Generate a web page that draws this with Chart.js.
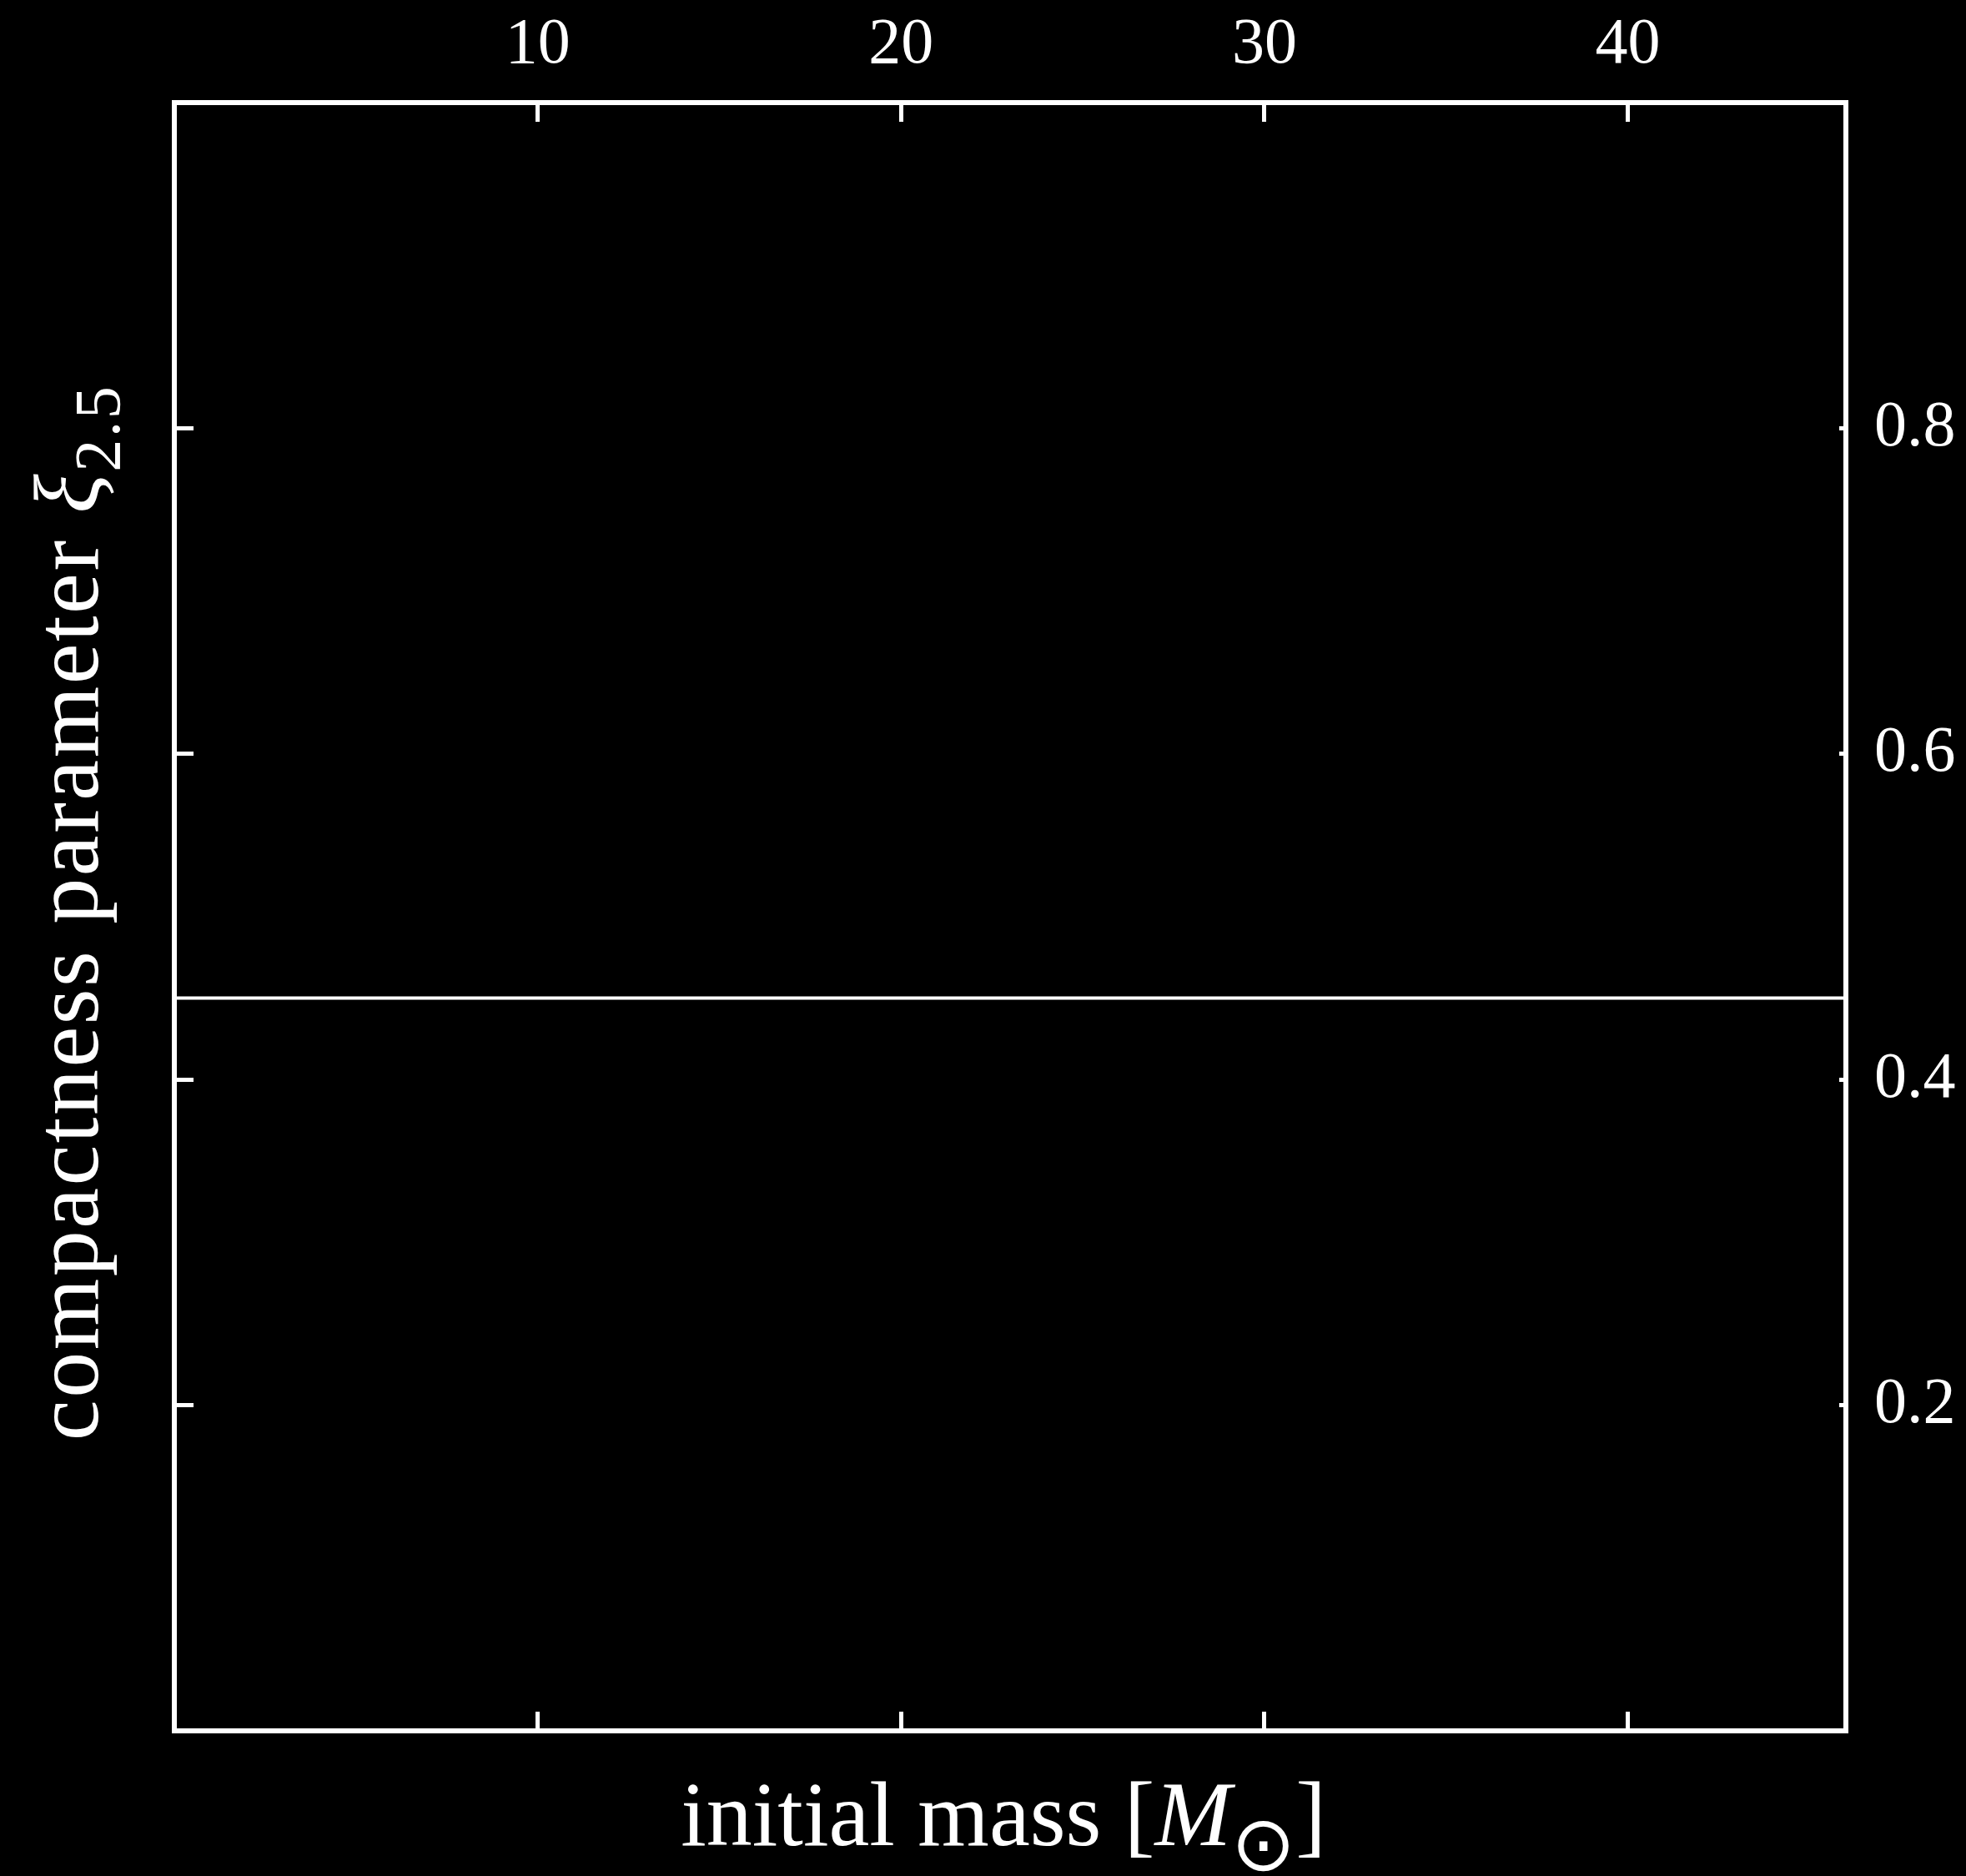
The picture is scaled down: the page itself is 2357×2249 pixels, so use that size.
<!DOCTYPE html>
<html>
<head>
<meta charset="utf-8">
<title>compactness parameter</title>
<script src="https://cdn.jsdelivr.net/npm/chart.js@4.4.1/dist/chart.umd.min.js"></script>
<style>
  html, body { margin: 0; padding: 0; background: #000; overflow: hidden; }
  #wrap { width: 2357px; height: 2249px; }
</style>
</head>
<body>
<div id="wrap"><canvas id="grafico-compactness"></canvas></div>
<script>
// axis limits and ticks
const massRange = [0, 46];
const xiRange = [0, 1];
const massTicks = [10, 20, 30, 40];
const xiTicks = [0.2, 0.4, 0.6, 0.8];

// the single horizontal line
const lineMass = [0, 46];
const lineXi = [0.45, 0.45];

// axis titles (parts: roman / italic / subscript / sun symbol)
const xTitle = [['initial mass [', 'r'], ['M', 'i'], ['\u2299', 'o'], [']', 'r']];
const yTitle = [['compactness parameter ', 'r'], ['\u03BE', 'i'], ['2.5', 's']];

const white = '#ffffff';
const serif = '"Liberation Serif", "DejaVu Serif", serif';

function fontFor(kind) {
  if (kind === 'i') return 'italic 110px ' + serif;
  if (kind === 's') return '78px ' + serif;
  if (kind === 'o') return '92px "DejaVu Sans", sans-serif';
  return '110px ' + serif;
}

// draws a title made of parts, centered on (cx, cy), optionally rotated
function drawRich(ctx, parts, cx, cy, angle, subShift, spacing) {
  ctx.save();
  ctx.translate(cx, cy);
  ctx.rotate(angle);
  ctx.textAlign = 'left';
  ctx.textBaseline = 'alphabetic';
  ctx.letterSpacing = spacing + 'px';
  let total = 0;
  parts.forEach(p => { ctx.font = fontFor(p[1]); total += ctx.measureText(p[0]).width; });
  let x = -total / 2;
  parts.forEach(p => {
    ctx.font = fontFor(p[1]);
    ctx.fillText(p[0], x, p[1] === 's' || p[1] === 'o' ? subShift : 0);
    x += ctx.measureText(p[0]).width;
  });
  ctx.restore();
}

const axisTitles = {
  id: 'axisTitles',
  afterDraw(chart) {
    const { ctx, chartArea } = chart;
    ctx.save();
    ctx.fillStyle = white;
    drawRich(ctx, xTitle, (chartArea.left + chartArea.right) / 2 - 8, chartArea.bottom + 137, 0, 30, 0);
    drawRich(ctx, yTitle, 117, (chartArea.top + chartArea.bottom) / 2 - 5, -Math.PI / 2, 26, 2.5);
    ctx.restore();
  }
};

function axis(position, tickLen, labels, padding, size) {
  const horizontal = position === 'top' || position === 'bottom';
  return {
    type: 'linear',
    position: position,
    min: horizontal ? massRange[0] : xiRange[0],
    max: horizontal ? massRange[1] : xiRange[1],
    afterBuildTicks: scale => {
      scale.ticks = (horizontal ? massTicks : xiTicks).map(v => ({ value: v }));
    },
    afterFit: scale => {
      if (horizontal) scale.height = size; else scale.width = size;
    },
    grid: { drawOnChartArea: false, drawTicks: true, tickLength: -tickLen, color: white, lineWidth: 5 },
    border: { display: true, color: white, width: 6 },
    ticks: { display: labels, color: white, padding: padding, font: { family: serif, size: 78 } }
  };
}

new Chart(document.getElementById('grafico-compactness'), {
  type: 'scatter',
  data: {
    datasets: [{
      data: lineMass.map((m, i) => ({ x: m, y: lineXi[i] })),
      showLine: true,
      borderColor: white,
      borderWidth: 4,
      pointRadius: 0,
      xAxisID: 'x',
      yAxisID: 'y'
    }]
  },
  options: {
    responsive: true,
    maintainAspectRatio: false,
    animation: false,
    layout: { padding: 0 },
    scales: {
      x: axis('bottom', 23, false, 0, 174),
      x2: axis('top', 23, true, 45, 123),
      y: axis('left', 23, false, 0, 209),
      y2: axis('right', 8, true, 42, 144)
    },
    plugins: {
      legend: { display: false },
      tooltip: { enabled: false }
    }
  },
  plugins: [axisTitles]
});
</script>
</body>
</html>
